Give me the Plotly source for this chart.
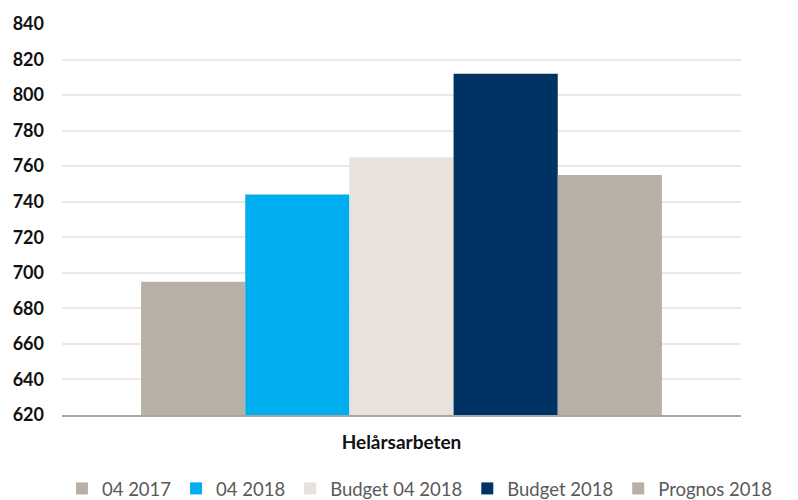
import plotly.graph_objects as go

categories = ["Helårsarbeten"]
series_names = ["04 2017", "04 2018", "Budget 04 2018", "Budget 2018", "Prognos 2018"]
series_values = [[695], [744], [765], [812], [755]]
series_colors = ["#B8AFA6", "#00ADEE", "#E8E1DC", "#003263", "#B8AFA6"]
y_ticks = list(range(620, 841, 20))

fig = go.Figure()
for name, vals, col in zip(series_names, series_values, series_colors):
    fig.add_trace(go.Bar(
        x=categories, y=vals, name=name,
        marker=dict(color=col, line=dict(width=0)),
    ))

fig.update_layout(
    width=798, height=500,
    margin=dict(l=62, r=57, t=24, b=85, autoexpand=False),
    paper_bgcolor="white", plot_bgcolor="white",
    barmode="group", bargap=0.233, bargroupgap=0,
    font=dict(family="Lato, 'Open Sans', sans-serif", color="#222222"),
    showlegend=True,
    legend=dict(
        orientation="h", x=-0.0001, xanchor="left",
        y=-0.189, yanchor="middle",
        font=dict(size=18.5, color="#595959"),
        itemwidth=30, tracegroupgap=0, traceorder="normal",
    ),
)
fig.update_yaxes(
    range=[620, 840], tickvals=y_ticks, automargin=False,
    showgrid=True, gridcolor="#EDE8E4", gridwidth=1.5,
    zeroline=False, showline=False, ticks="",
    tickfont=dict(size=18, color="#111111", family="Lato, sans-serif", weight="bold"),
    ticklabelstandoff=17,
)
fig.update_xaxes(
    showline=True, linecolor="#A6A6A6", linewidth=1.5, automargin=False,
    ticks="", tickfont=dict(size=19, color="#111111", family="Lato, sans-serif", weight="bold"),
    ticklabelstandoff=9,
)

fig.write_html("out.html", config={"displayModeBar": False},
               post_script="document.body.style.margin='0';")
